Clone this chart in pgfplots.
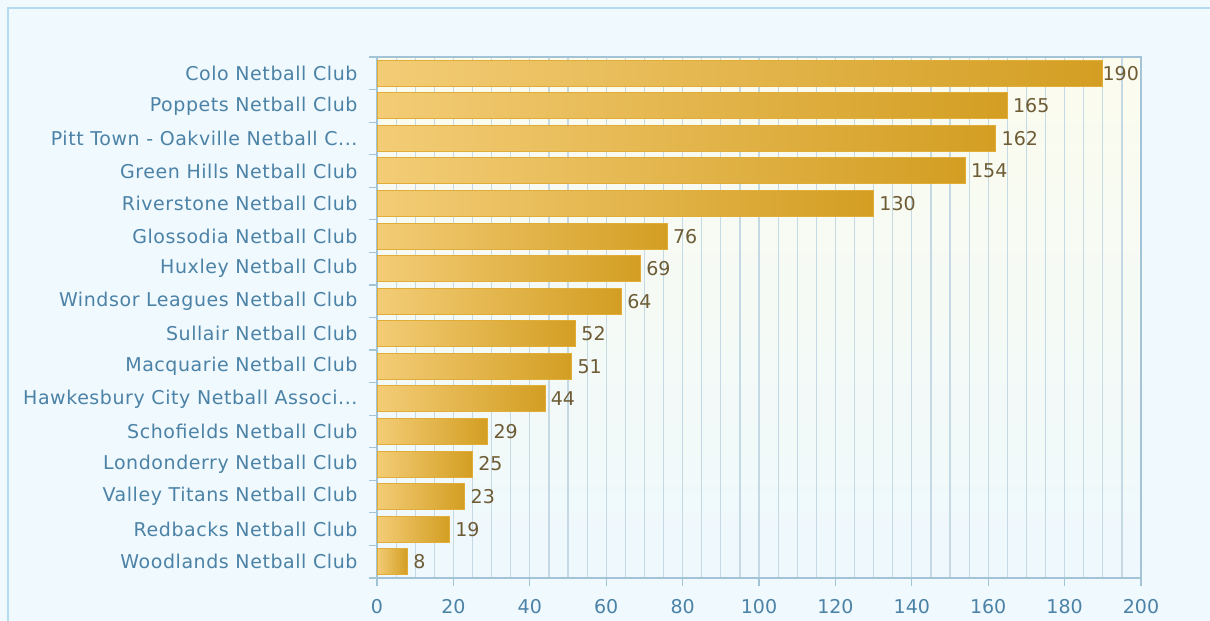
\documentclass[border=0pt]{standalone}
\usepackage{pgfplots}
\pgfplotsset{compat=1.18}
\usepackage{fontspec}
\setmainfont{DejaVu Sans}
\newfontfamily\labfont[LetterSpace=3.0]{DejaVu Sans}
\newcommand{\threedots}{.{}.{}.}
\definecolor{outerbg}{HTML}{EFF9FE}
\definecolor{framecol}{HTML}{B3DAEE}
\definecolor{axiscol}{HTML}{A3C3D6}
\definecolor{gridcol}{HTML}{C4D9E4}
\definecolor{labcol}{HTML}{4C82A6}
\definecolor{valcol}{HTML}{6E5C36}
\definecolor{barleft}{HTML}{F3CC76}
\definecolor{barright}{HTML}{D39E22}
\definecolor{barborder}{HTML}{E2AD36}
\definecolor{plottop}{HTML}{FCFCEE}
\definecolor{plotbot}{HTML}{EEF8FD}
\pgfplotsset{
  barsty/.style={xbar, bar shift=0pt, bar width=0.8,
    left color=barleft, right color=barright, draw=barborder, line width=1pt,
    nodes near coords,
    nodes near coords style={anchor=west, xshift=2pt, font=\fontsize{19}{22}\selectfont, text=valcol}},
}
\begin{document}
\begin{tikzpicture}
\useasboundingbox (0pt,0pt) rectangle (1210pt,621pt);
\fill[outerbg] (0pt,0pt) rectangle (1210pt,621pt);
\draw[framecol, line width=1.5pt] (8pt,-5pt) -- (8pt,613pt) -- (1215pt,613pt);
\begin{axis}[
  at={(377pt,43pt)}, anchor=south west,
  scale only axis, width=764pt, height=521pt,
  xmin=0, xmax=200, ymin=-0.5, ymax=15.5,
  axis background/.style={top color=plottop, bottom color=plotbot},
  axis line style={draw=axiscol, line width=1.5pt},
  xtick={0,20,...,200}, minor x tick num=3,
  xmajorgrids, xminorgrids,
  major grid style={draw=gridcol, line width=1.2pt},
  minor grid style={draw=gridcol, line width=1.2pt},
  ytick={-0.5,0.5,...,15.5},
  y tick label as interval,
  yticklabels={{Woodlands Netball Club}, {Redbacks Netball Club}, {Valley Titans Netball Club}, {Londonderry Netball Club}, {Schofields Netball Club}, {Hawkesbury City Netball Associ\threedots}, {Macquarie Netball Club}, {Sullair Netball Club}, {Windsor Leagues Netball Club}, {Huxley Netball Club}, {Glossodia Netball Club}, {Riverstone Netball Club}, {Green Hills Netball Club}, {Pitt Town - Oakville Netball C\threedots}, {Poppets Netball Club}, {Colo Netball Club}},
  tick align=outside, major tick length=8pt, minor tick length=0pt,
  xtick pos=bottom, ytick pos=left,
  tick style={draw=axiscol, line width=1.2pt},
  /pgf/number format/assume math mode=true,
  ticklabel style={font=\labfont\fontsize{19}{22}\selectfont, text=labcol},
  yticklabel style={xshift=-8pt},
  xticklabel style={yshift=-10pt, font=\fontsize{19}{22}\selectfont},
]
\addplot[barsty] coordinates {(8,0)};
\addplot[barsty] coordinates {(19,1)};
\addplot[barsty] coordinates {(23,2)};
\addplot[barsty] coordinates {(25,3)};
\addplot[barsty] coordinates {(29,4)};
\addplot[barsty] coordinates {(44,5)};
\addplot[barsty] coordinates {(51,6)};
\addplot[barsty] coordinates {(52,7)};
\addplot[barsty] coordinates {(64,8)};
\addplot[barsty] coordinates {(69,9)};
\addplot[barsty] coordinates {(76,10)};
\addplot[barsty] coordinates {(130,11)};
\addplot[barsty] coordinates {(154,12)};
\addplot[barsty] coordinates {(162,13)};
\addplot[barsty] coordinates {(165,14)};
\addplot[barsty, nodes near coords style={xshift=-6pt}] coordinates {(190,15)};
\end{axis}
\end{tikzpicture}
\end{document}
